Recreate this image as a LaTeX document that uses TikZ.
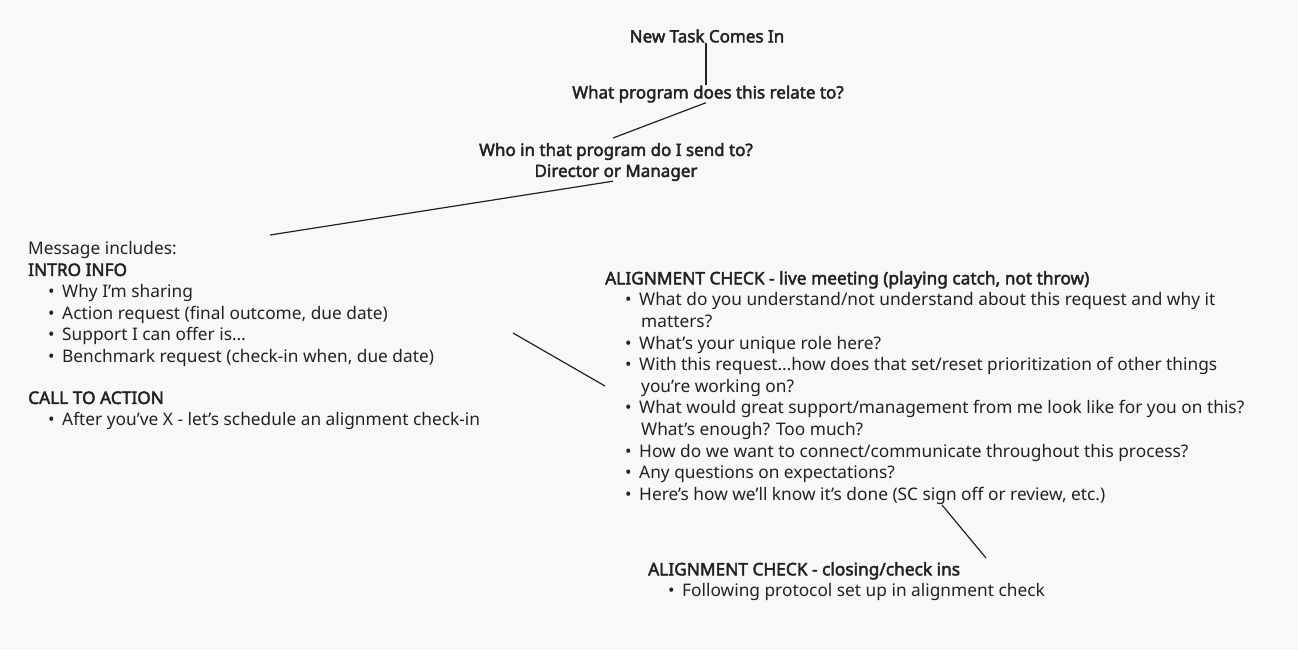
\documentclass[tikz,border=0pt]{standalone}
\usepackage{fontspec}
\setmainfont{Noto Sans}[BoldFont={Noto Sans},BoldFeatures={FakeBold=2.5}]
\usetikzlibrary{positioning}
\definecolor{ink}{HTML}{222222}
\definecolor{paper}{HTML}{F8F8F8}
\newcommand{\bitem}{\makebox[14pt][l]{\textbullet}}
\begin{document}
\begin{tikzpicture}[x=1pt,y=-1pt,
  lbl/.style={inner sep=0pt,text=ink,font=\fontsize{17}{21}\selectfont\bfseries,align=center},
  blk/.style={inner sep=0pt,text=ink,font=\fontsize{17.3}{21.6}\selectfont,align=left,anchor=north west},
  link/.style={draw=ink,line width=1.2pt}]
	\fill[paper] (0,0) rectangle (1298,649);
	\useasboundingbox (0,0) rectangle (1298,649);

	\node[lbl] (task) at (707,36) {New Task Comes In};
	\node[lbl] (prog) at (708,94) {What program does this relate to?};
	\node[lbl] (who) at (616,162) {Who in that program do I send to?\\Director or Manager};

	\node[blk] (msg) at (28,241) {Message includes:\\
		\textbf{INTRO INFO}\\
		\hspace*{20pt}\bitem Why I’m sharing\\
		\hspace*{20pt}\bitem Action request (final outcome, due date)\\
		\hspace*{20pt}\bitem Support I can offer is…\\
		\hspace*{20pt}\bitem Benchmark request (check-in when, due date)\\[20pt]
		\textbf{CALL TO ACTION}\\
		\hspace*{20pt}\bitem After you’ve X - let’s schedule an alignment check-in};

	\node[blk] (live) at (605,271) {\textbf{ALIGNMENT CHECK - live meeting (playing catch, not throw)}\\
		\hspace*{20pt}\bitem What do you understand/not understand about this request and why it\\
		\hspace*{36pt}matters?\\
		\hspace*{20pt}\bitem What’s your unique role here?\\
		\hspace*{20pt}\bitem With this request…how does that set/reset prioritization of other things\\
		\hspace*{36pt}you’re working on?\\
		\hspace*{20pt}\bitem What would great support/management from me look like for you on this?\\
		\hspace*{36pt}What’s enough? Too much?\\
		\hspace*{20pt}\bitem How do we want to connect/communicate throughout this process?\\
		\hspace*{20pt}\bitem Any questions on expectations?\\
		\hspace*{20pt}\bitem Here’s how we’ll know it’s done (SC sign off or review, etc.)};

	\node[blk] (close) at (648,562) {\textbf{ALIGNMENT CHECK - closing/check ins}\\
		\hspace*{20pt}\bitem Following protocol set up in alignment check};

	% loose ends of the links
	\coordinate (msgend) at (270,235);
	\coordinate (introend) at (513,333);
	\coordinate (liveend) at (605,386);
	\coordinate (doneend) at (942,505);
	\coordinate (closeend) at (986,558);

	\draw[link] (task.south -| 706,0) -- (prog.north -| 706,0);
	\draw[link] (prog.south -| 706,0) -- (613,138);
	\draw[link] (who.south -| 613,0) -- (msgend);
	\draw[link] (introend) -- (liveend);
	\draw[link] (doneend) -- (closeend);
\end{tikzpicture}
\end{document}
